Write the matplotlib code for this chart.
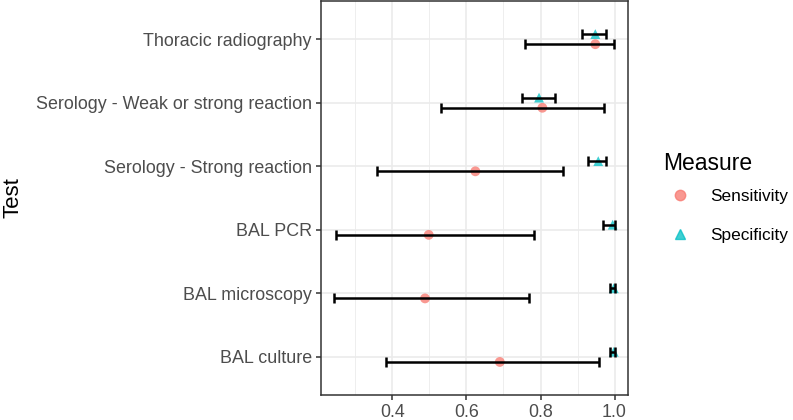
import matplotlib.pyplot as plt
from matplotlib.ticker import MultipleLocator
from matplotlib.lines import Line2D

plt.rcParams['font.family'] = ['Liberation Sans', 'DejaVu Sans']

tests = ["BAL culture", "BAL microscopy", "BAL PCR",
         "Serology - Strong reaction", "Serology - Weak or strong reaction",
         "Thoracic radiography"]

sens = [0.690, 0.488, 0.498, 0.624, 0.805, 0.948]
sens_lo = [0.383, 0.243, 0.247, 0.357, 0.532, 0.757]
sens_hi = [0.957, 0.770, 0.783, 0.861, 0.972, 0.998]

spec = [0.998, 0.998, 0.995, 0.956, 0.796, 0.948]
spec_lo = [0.988, 0.988, 0.969, 0.927, 0.749, 0.913]
spec_hi = [1.0, 1.0, 1.0, 0.976, 0.839, 0.978]

measures = ["Sensitivity", "Specificity"]
colors = ["#F8766D", "#00BFC4"]

fig = plt.figure(figsize=(7.93, 4.2), dpi=100)
ax = fig.add_axes([321 / 793, 1 - 395 / 420, (627.5 - 321) / 793, 394 / 420])

off = 0.08
ys = list(range(1, len(tests) + 1))

for vals, lo, hi, dy, col, mk in [(sens, sens_lo, sens_hi, -off, colors[0], "o"),
                                  (spec, spec_lo, spec_hi, off, colors[1], "^")]:
    y = [v + dy for v in ys]
    ax.scatter(vals, y, color=col, marker=mk, s=50, alpha=0.75,
               edgecolors="none", zorder=3)
    xerr = [[v - l for v, l in zip(vals, lo)], [h - v for v, h in zip(vals, hi)]]
    ax.errorbar(vals, y, xerr=xerr, fmt="none", ecolor="black",
                elinewidth=1.8, capsize=3.5, capthick=1.8, zorder=4)

ax.set_xlim(0.207, 1.035)
ax.set_ylim(0.4, 6.6)
ax.set_yticks(ys)
ax.set_yticklabels(tests)
ax.xaxis.set_minor_locator(MultipleLocator(0.1))
ax.set_xticks([0.4, 0.6, 0.8, 1.0])
ax.set_xticklabels(["0.4", "0.6", "0.8", "1.0"])

ax.grid(True, which="major", color="#EBEBEB", linewidth=1.2)
ax.grid(True, which="minor", axis="x", color="#EBEBEB", linewidth=0.6)
ax.set_axisbelow(True)
ax.tick_params(which="minor", length=0)
ax.tick_params(which="major", length=3.5, width=1.1, color="#333333",
               labelsize=12.9, labelcolor="#4D4D4D", pad=3)
for s in ax.spines.values():
    s.set_color("#333333")
    s.set_linewidth(1.1)

fig.text(13 / 793, 1 - 198 / 420, "Test", rotation=90, fontsize=16,
         ha="center", va="center")

# legend: title as text, entries via legend
fig.text(663 / 793, 1 - 163 / 420, "Measure", fontsize=16.5,
         ha="left", va="center")
handles = [Line2D([], [], marker="o", color=colors[0], alpha=0.75, linestyle="none", markersize=7.5),
           Line2D([], [], marker="^", color=colors[1], alpha=0.75, linestyle="none", markersize=7.5)]
leg = fig.legend(handles, measures, loc="upper left",
                 bbox_to_anchor=(668 / 793, 1 - 189 / 420), frameon=False,
                 fontsize=12.4, handletextpad=1.05, handlelength=1.4,
                 labelspacing=1.4, borderaxespad=0, borderpad=0)

fig.savefig("out.png", dpi=100)
